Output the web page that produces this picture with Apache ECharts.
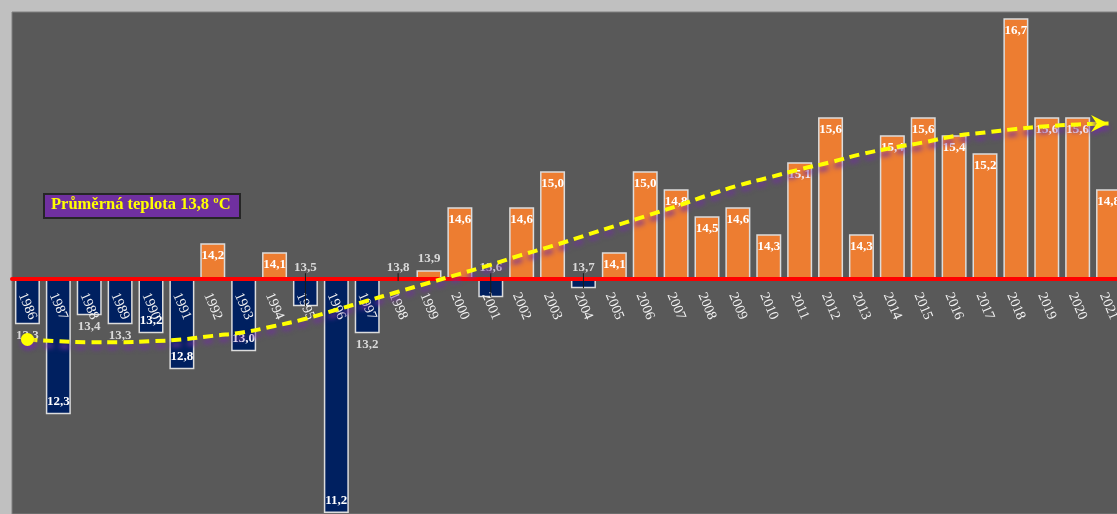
<!DOCTYPE html>
<html><head><meta charset="utf-8">
<script src="https://cdn.jsdelivr.net/npm/echarts@6/dist/echarts.min.js"></script>
<style>html,body{margin:0;padding:0;background:#c0c0c0;overflow:hidden}#c{width:1117px;height:514px;}</style>
</head><body><div id="c"></div>
<script>
const years = [1986,1987,1988,1989,1990,1991,1992,1993,1994,1995,1996,1997,1998,1999,2000,2001,2002,2003,2004,2005,2006,2007,2008,2009,2010,2011,2012,2013,2014,2015,2016,2017,2018,2019,2020,2021];
const temps = [13.3,12.3,13.4,13.3,13.2,12.8,14.2,13.0,14.1,13.5,11.2,13.2,13.78,13.9,14.6,13.6,14.6,15.0,13.7,14.1,15.0,14.8,14.5,14.6,14.3,15.1,15.6,14.3,15.4,15.6,15.4,15.2,16.7,15.6,15.6,14.8];
const trend = [13.13,13.11,13.10,13.10,13.11,13.13,13.17,13.21,13.28,13.36,13.46,13.56,13.66,13.76,13.86,13.96,14.07,14.17,14.28,14.39,14.50,14.61,14.73,14.84,14.93,15.02,15.10,15.19,15.26,15.32,15.39,15.43,15.47,15.50,15.52,15.53];
const baseline = 13.8;
const annotationText = 'Průměrná teplota 13,8 ºC';
const outsideLabelYears = [1986,1988,1989,1995,1997,1998,1999,2001,2004];
const leaderLineYears = [1995,1998,2001,2004];

const yMin = -2.61, yMax = 2.97;
const gridTop = 12, gridHeight = 502;
const zeroOffset = -gridHeight * (-yMin) / (yMax - yMin);

const fmt = v => v.toFixed(1).replace('.', ',');
const barData = temps.map((t, i) => {
  const d = +(t - baseline).toFixed(3);
  const pos = d >= 0;
  const outside = outsideLabelYears.includes(years[i]);
  let position;
  if (outside) position = pos ? 'top' : (d > -0.35 ? 'top' : 'bottom');
  else position = pos ? 'insideTop' : 'insideBottom';
  return {
    value: d,
    itemStyle: { color: pos ? '#ed7d31' : '#002060' },
    label: {
      position: position,
      distance: outside ? 5 : 6,
      color: outside ? '#d9d9d9' : '#ffffff'
    }
  };
});
const trendData = trend.map((t, i) => {
  const v = +(t - baseline).toFixed(3);
  if (i === 0) return { value: v, symbol: 'circle', symbolSize: 13 };
  if (i === trend.length - 1) return { value: v, symbol: 'path://M0,0 L12,6 L0,12 L4,6 Z', symbolSize: [17, 17], symbolOffset: [-9, 0] };
  return { value: v, symbol: 'none' };
});
const leaderData = leaderLineYears.map(y => {
  const i = years.indexOf(y);
  return [i, +(temps[i] - baseline).toFixed(3)];
});

const chart = echarts.init(document.getElementById('c'), null, { renderer: 'canvas' });
chart.setOption({
  animation: false,
  backgroundColor: '#c0c0c0',
  grid: { left: 12, top: gridTop, width: 1112, height: gridHeight, show: true, backgroundColor: '#595959', borderColor: '#808080', borderWidth: 1, containLabel: false, outerBoundsMode: 'none' },
  xAxis: {
    type: 'category', data: years.map(String), z: 3, position: 'bottom', offset: zeroOffset,
    axisLine: { onZero: false, lineStyle: { color: '#ff0000', width: 4 } },
    axisTick: { show: false },
    axisLabel: { show: true, interval: 0, rotate: -67, align: 'center', verticalAlign: 'middle', margin: 27, color: '#f2f2f2', fontFamily: 'Liberation Serif', fontSize: 14 }
  },
  yAxis: { type: 'value', min: yMin, max: yMax, show: false, splitLine: { show: false } },
  series: [
    {
      type: 'bar', data: barData, barWidth: 25, z: 2,
      itemStyle: { borderColor: '#dcdcdc', borderWidth: 1.5 },
      label: {
        show: true, fontFamily: 'Liberation Serif', fontWeight: 'bold', fontSize: 13,
        formatter: p => fmt(temps[p.dataIndex])
      }
    },
    {
      type: 'custom', z: 4, data: leaderData, encode: { x: 0, y: 1 },
      renderItem: (params, api) => {
        const x = api.value(0), d = api.value(1);
        const p0 = api.coord([x, 0]);
        const p1 = api.coord([x, d]);
        return { type: 'line', shape: { x1: p0[0], y1: p0[1] - 6, x2: p1[0], y2: p1[1] }, style: { stroke: '#1a1a1a', lineWidth: 1 } };
      }
    },
    {
      type: 'line', data: trendData, smooth: true, z: 6, showSymbol: true,
      itemStyle: { color: '#ffff00', shadowColor: 'rgba(112,48,160,0.9)', shadowBlur: 4, shadowOffsetY: 4 },
      lineStyle: { color: '#ffff00', width: 4, type: [10, 6], shadowColor: 'rgba(112,48,160,0.9)', shadowBlur: 5, shadowOffsetY: 5 }
    }
  ],
  graphic: [
    { type: 'rect', left: 43, top: 193, shape: { width: 196, height: 24 }, style: { fill: '#7030a0', stroke: '#262626', lineWidth: 2 }, z: 10 },
    { type: 'text', left: 51, top: 196, style: { text: annotationText, fill: '#ffff00', font: 'bold 16.5px "Liberation Serif"' }, z: 11 }
  ]
});
</script></body></html>
